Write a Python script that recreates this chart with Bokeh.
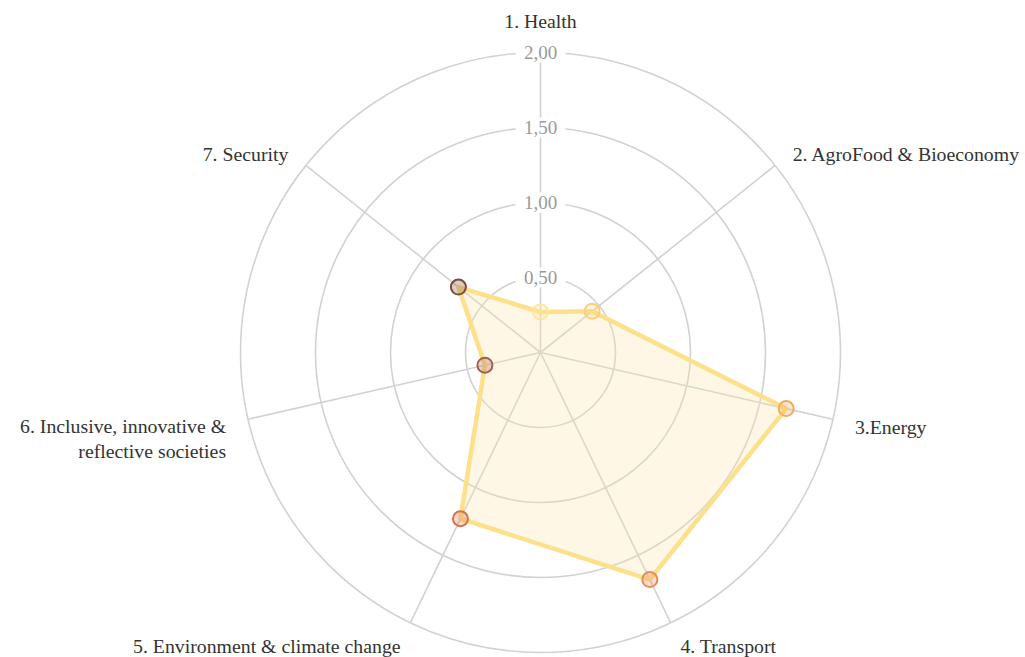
import math
from bokeh.plotting import figure
from bokeh.models import ColumnDataSource
from bokeh.core.properties import value
from bokeh.embed import file_html
from bokeh.resources import INLINE

categories = ["1. Health", "2. AgroFood & Bioeconomy", "3.Energy", "4. Transport",
              "5. Environment & climate change",
              "6. Inclusive, innovative &\nreflective societies", "7. Security"]
values = [0.27, 0.44, 1.68, 1.68, 1.23, 0.38, 0.70]
marker_colors = ["#fde7a0", "#fbcf78", "#f6aa5c", "#eb8a56", "#d8704c", "#a65f4e", "#7a4a3c"]
tick_values = [0.5, 1.0, 1.5, 2.0]
tick_labels = ["0,50", "1,00", "1,50", "2,00"]

FONT = value("Liberation Serif")

W, H = 1025, 657
cx_px, cy_px = 540, 352
scale = 150.0
p = figure(width=W, height=H, output_backend="svg", toolbar_location=None,
           x_range=(-cx_px / scale, (W - cx_px) / scale),
           y_range=(-(H - cy_px) / scale, cy_px / scale),
           min_border=0, outline_line_color=None)
p.axis.visible = False
p.grid.visible = False
p.background_fill_color = "white"

n = len(categories)
ang = [2 * math.pi * i / n for i in range(n)]
rmax = tick_values[-1]

# grid circles
for t in tick_values:
    p.circle(x=0, y=0, radius=t, fill_color=None, line_color="#d2d2d2", line_width=1.6)
# spokes
for a in ang:
    p.line([0, rmax * math.sin(a)], [0, rmax * math.cos(a)], line_color="#d2d2d2", line_width=1.6)

# white boxes behind tick labels
tsrc = ColumnDataSource(dict(x=[0] * len(tick_values), y=tick_values, t=tick_labels))
p.rect("x", "y", source=tsrc, width=50, height=20, width_units="screen",
       height_units="screen", fill_color="white", line_color=None)

# data polygon
xs = [v * math.sin(a) for v, a in zip(values, ang)]
ys = [v * math.cos(a) for v, a in zip(values, ang)]
p.patch(xs, ys, fill_color="#fbe6a8", fill_alpha=0.3, line_color=None)
p.line(xs + xs[:1], ys + ys[:1], line_color="#fde08a", line_width=4.5, line_join="round")
src = ColumnDataSource(dict(x=xs, y=ys, c=marker_colors))
p.scatter("x", "y", source=src, size=15, line_color="c", line_width=2,
          fill_color="c", fill_alpha=0.28)

# tick labels
p.text("x", "y", text="t", source=tsrc, text_align="center", text_baseline="middle",
       text_color="#9a9a9a", text_font=FONT, text_font_size="19px")

# category labels
lr = 2.15
lx, ly, al, bl, yo = [], [], [], [], []
for i, a in enumerate(ang):
    lx.append(lr * math.sin(a))
    ly.append(lr * math.cos(a))
    s = math.sin(a)
    if abs(s) < 1e-6:
        al.append("center"); bl.append("bottom"); yo.append(2)
    elif s > 0:
        al.append("left"); bl.append("middle"); yo.append(3)
    else:
        al.append("right"); bl.append("middle"); yo.append(3)
yo[5] = 14
lsrc = ColumnDataSource(dict(x=lx, y=ly, t=categories, a=al, b=bl, yo=yo))
p.text("x", "y", text="t", source=lsrc, text_align="a", text_baseline="b",
       y_offset="yo", text_color="#333333", text_font=FONT,
       text_font_size="19.8px", text_line_height=1.15)

open("out.html", "w").write(file_html(p, INLINE))
